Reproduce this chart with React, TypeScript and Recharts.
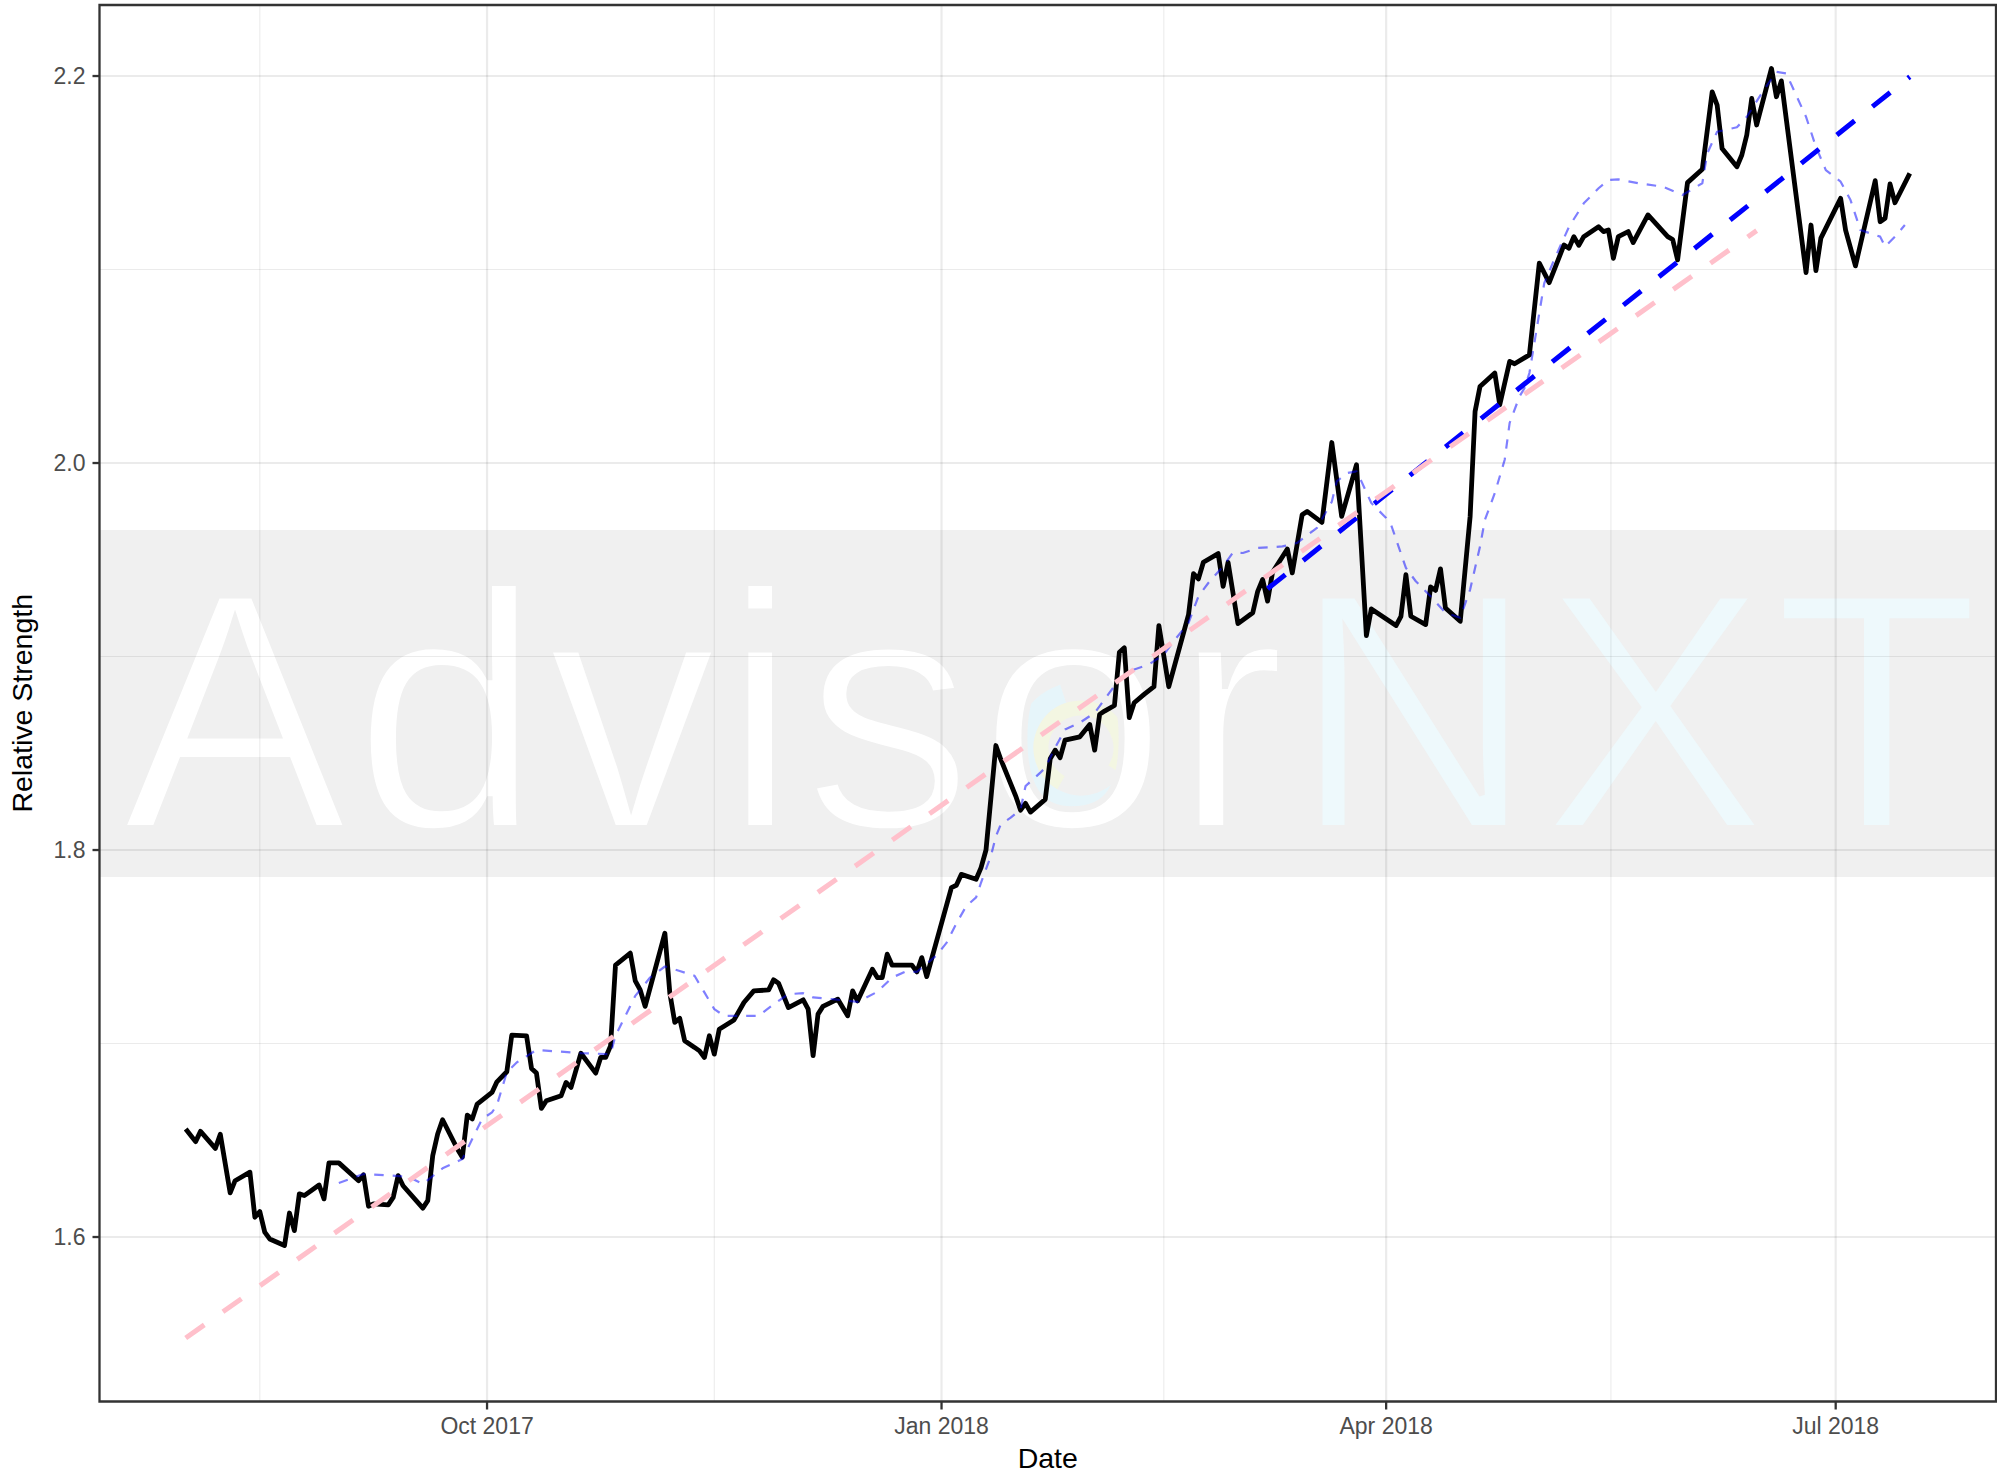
import React from 'react';
import { LineChart, Line, XAxis, YAxis, CartesianGrid, ReferenceArea } from 'recharts';

// ---- data ----
const priceDates = [
  '2017-08-01','2017-08-03','2017-08-04','2017-08-07','2017-08-08','2017-08-10','2017-08-11','2017-08-14','2017-08-15','2017-08-16',
  '2017-08-17','2017-08-18','2017-08-21','2017-08-22','2017-08-23','2017-08-24','2017-08-25','2017-08-28','2017-08-29','2017-08-30',
  '2017-09-01','2017-09-05','2017-09-06','2017-09-07','2017-09-08','2017-09-11','2017-09-12','2017-09-13','2017-09-14','2017-09-18',
  '2017-09-19','2017-09-20','2017-09-21','2017-09-22','2017-09-25','2017-09-26','2017-09-27','2017-09-28','2017-09-29','2017-10-02',
  '2017-10-03','2017-10-05','2017-10-06','2017-10-09','2017-10-10','2017-10-11','2017-10-12','2017-10-13','2017-10-16','2017-10-17',
  '2017-10-18','2017-10-20','2017-10-23','2017-10-24','2017-10-25','2017-10-26','2017-10-27','2017-10-30','2017-10-31','2017-11-01',
  '2017-11-02','2017-11-06','2017-11-07','2017-11-08','2017-11-09','2017-11-10','2017-11-12','2017-11-13','2017-11-14','2017-11-15',
  '2017-11-16','2017-11-17','2017-11-20','2017-11-22','2017-11-24','2017-11-27','2017-11-28','2017-11-29','2017-12-01','2017-12-04',
  '2017-12-05','2017-12-06','2017-12-07','2017-12-08','2017-12-11','2017-12-13','2017-12-14','2017-12-15','2017-12-18','2017-12-19',
  '2017-12-20','2017-12-21','2017-12-22','2017-12-26','2017-12-27','2017-12-28','2017-12-29','2018-01-03','2018-01-04','2018-01-05',
  '2018-01-08','2018-01-09','2018-01-10','2018-01-12','2018-01-13','2018-01-16','2018-01-17','2018-01-18','2018-01-19','2018-01-22',
  '2018-01-23','2018-01-24','2018-01-25','2018-01-26','2018-01-29','2018-01-31','2018-02-01','2018-02-02','2018-02-03','2018-02-05',
  '2018-02-06','2018-02-07','2018-02-08','2018-02-09','2018-02-11','2018-02-13','2018-02-14','2018-02-16','2018-02-20','2018-02-21',
  '2018-02-22','2018-02-23','2018-02-26','2018-02-27','2018-02-28','2018-03-02','2018-03-05','2018-03-06','2018-03-07','2018-03-08',
  '2018-03-09','2018-03-12','2018-03-13','2018-03-15','2018-03-16','2018-03-19','2018-03-21','2018-03-23','2018-03-26','2018-03-28',
  '2018-03-29','2018-04-03','2018-04-04','2018-04-05','2018-04-06','2018-04-09','2018-04-10','2018-04-11','2018-04-12','2018-04-13',
  '2018-04-16','2018-04-18','2018-04-19','2018-04-20','2018-04-23','2018-04-24','2018-04-26','2018-04-27','2018-04-30','2018-05-02',
  '2018-05-04','2018-05-07','2018-05-08','2018-05-09','2018-05-10','2018-05-11','2018-05-14','2018-05-15','2018-05-16','2018-05-17',
  '2018-05-18','2018-05-20','2018-05-21','2018-05-24','2018-05-28','2018-05-29','2018-05-30','2018-06-01','2018-06-04','2018-06-06',
  '2018-06-07','2018-06-08','2018-06-11','2018-06-12','2018-06-13','2018-06-14','2018-06-15','2018-06-18','2018-06-19','2018-06-20',
  '2018-06-25','2018-06-26','2018-06-27','2018-06-28','2018-07-02','2018-07-03','2018-07-05','2018-07-09','2018-07-10','2018-07-11',
  '2018-07-12','2018-07-13','2018-07-16',
];
const priceValues = [
  1.6558,1.6493,1.6546,1.6458,1.6531,1.6228,1.6291,1.6335,1.6102,1.6131,
  1.6025,1.599,1.5956,1.6124,1.6033,1.6223,1.6214,1.6269,1.6197,1.6383,
  1.6383,1.6291,1.6321,1.6159,1.6171,1.6166,1.6205,1.6317,1.6265,1.6149,
  1.6188,1.642,1.6532,1.6606,1.6455,1.6412,1.663,1.661,1.6687,1.6747,
  1.6802,1.6854,1.7043,1.704,1.6871,1.6847,1.6665,1.6704,1.673,1.6799,
  1.6773,1.695,1.6847,1.6928,1.6928,1.6988,1.7405,1.7467,1.7324,1.7277,
  1.7192,1.757,1.726,1.7109,1.713,1.7014,1.698,1.6962,1.6928,1.704,
  1.6945,1.7074,1.7122,1.7212,1.7272,1.7277,1.7329,1.7312,1.7186,1.7226,
  1.7178,1.6937,1.7152,1.7192,1.7229,1.7143,1.7272,1.722,1.7384,1.7341,
  1.7341,1.7462,1.7405,1.7405,1.737,1.7444,1.7346,1.7806,1.7818,1.7874,
  1.7849,1.7909,1.8,1.854,1.8468,1.828,1.8206,1.8241,1.8196,1.8262,
  1.8472,1.8516,1.8477,1.8568,1.8585,1.8649,1.8516,1.8701,1.8718,1.8747,
  1.9022,1.9045,1.8684,1.8761,1.8804,1.8844,1.916,1.8844,1.9217,1.9428,
  1.9401,1.9487,1.9532,1.9363,1.9487,1.917,1.9226,1.9337,1.9398,1.9286,
  1.9435,1.9556,1.9432,1.9733,1.975,1.9693,2.0106,1.9724,1.9991,1.9108,
  1.9246,1.916,1.9208,1.9423,1.9208,1.9165,1.936,1.9342,1.9453,1.9251,
  1.9182,1.9724,2.0266,2.0395,2.0465,2.0301,2.0525,2.0513,2.0559,2.1033,
  2.0932,2.1127,2.111,2.117,2.1125,2.117,2.1221,2.1196,2.1204,2.1058,
  2.117,2.1196,2.1139,2.1282,2.117,2.1155,2.105,2.1449,2.1518,2.1918,
  2.185,2.1626,2.1531,2.1592,2.1695,2.1884,2.1747,2.2039,2.1893,2.1975,
  2.0984,2.123,2.0994,2.1162,2.1368,2.1204,2.1019,2.1459,2.1247,2.1265,
  2.1442,2.1345,2.1497,
];

const smoothDates = [
  '2017-09-01','2017-09-06','2017-09-15','2017-09-18','2017-09-22','2017-09-26','2017-09-28','2017-09-30','2017-10-02','2017-10-03',
  '2017-10-05','2017-10-07','2017-10-11','2017-10-20','2017-10-26','2017-10-27','2017-10-31','2017-11-03','2017-11-06','2017-11-09',
  '2017-11-12','2017-11-14','2017-11-16','2017-11-18','2017-11-25','2017-11-28','2017-12-01','2017-12-04','2017-12-06','2017-12-10',
  '2017-12-15','2017-12-19','2017-12-22','2017-12-25','2017-12-27','2017-12-31','2018-01-02','2018-01-04','2018-01-06','2018-01-08',
  '2018-01-09','2018-01-11','2018-01-12','2018-01-13','2018-01-15','2018-01-17','2018-01-18','2018-01-21','2018-01-22','2018-01-24',
  '2018-01-26','2018-01-29','2018-02-01','2018-02-04','2018-02-06','2018-02-09','2018-02-12','2018-02-15','2018-02-17','2018-02-20',
  '2018-02-22','2018-02-24','2018-02-27','2018-03-01','2018-03-03','2018-03-06','2018-03-11','2018-03-14','2018-03-18','2018-03-21',
  '2018-03-22','2018-03-24','2018-03-26','2018-03-27','2018-03-29','2018-04-01','2018-04-02','2018-04-05','2018-04-07','2018-04-10',
  '2018-04-13','2018-04-16','2018-04-18','2018-04-20','2018-04-21','2018-04-23','2018-04-25','2018-04-26','2018-04-28','2018-04-29',
  '2018-04-30','2018-05-03','2018-05-05','2018-05-08','2018-05-11','2018-05-14','2018-05-16','2018-05-18','2018-05-22','2018-05-27',
  '2018-05-31','2018-06-04','2018-06-05','2018-06-07','2018-06-11','2018-06-13','2018-06-16','2018-06-19','2018-06-21','2018-06-23',
  '2018-06-25','2018-06-27','2018-06-29','2018-07-02','2018-07-04','2018-07-06','2018-07-08','2018-07-10','2018-07-11','2018-07-13',
  '2018-07-15',
];
const smoothValues = [
  1.6279,1.6326,1.6312,1.6274,1.6355,1.6403,1.6506,1.661,1.6644,1.6682,
  1.6851,1.6902,1.6967,1.695,1.6945,1.704,1.7246,1.7341,1.7398,1.7375,
  1.735,1.7264,1.7178,1.7143,1.7143,1.7203,1.7255,1.726,1.7238,1.7229,
  1.7215,1.7267,1.7341,1.7375,1.737,1.7456,1.752,1.762,1.771,1.7755,
  1.7832,1.797,1.807,1.8133,1.8167,1.821,1.833,1.84,1.8425,1.8529,
  1.8623,1.8658,1.8709,1.8813,1.8881,1.8933,1.8959,1.901,1.9079,1.9174,
  1.9311,1.938,1.9466,1.9538,1.9535,1.9561,1.9569,1.9587,1.9665,1.98,
  1.9905,1.9948,1.9957,1.9905,1.9793,1.9716,1.9681,1.9458,1.9389,1.9311,
  1.9226,1.92,1.9346,1.9569,1.9707,1.9845,2.0017,2.0207,2.0344,2.0387,
  2.0465,2.0929,2.105,2.122,2.1342,2.142,2.1463,2.1466,2.1446,2.1428,
  2.1385,2.1446,2.16,2.1712,2.1735,2.1789,2.191,2.2022,2.2013,2.1901,
  2.1789,2.1634,2.1514,2.1454,2.1359,2.1204,2.1187,2.117,2.1118,2.117,
  2.123,
];

const trendLongDates = ['2017-08-01', '2018-06-15'];
const trendLongValues = [1.5478, 2.1201];
const trendRecentDates = ['2018-03-08', '2018-07-16'];
const trendRecentValues = [1.935, 2.1996];

const xTickDates = ['2017-10-01', '2018-01-01', '2018-04-01', '2018-07-01'];
const xTickLabels = ['Oct 2017', 'Jan 2018', 'Apr 2018', 'Jul 2018'];
const yTicks = [1.6, 1.8, 2.0, 2.2];

const xTitle = 'Date';
const yTitle = 'Relative Strength';
const watermarkMain = 'Advisor';
const watermarkAccent = 'NXT';

// ---- helpers ----
const toT = (s: string) => Date.parse(s + 'T00:00:00Z');
const build = (dates: string[], values: number[]) => dates.map((d, i) => ({ t: toT(d), v: values[i] }));

const priceData = build(priceDates, priceValues);
const smoothData = build(smoothDates, smoothValues);
const trendLongData = build(trendLongDates, trendLongValues);
const trendRecentData = build(trendRecentDates, trendRecentValues);

const allPts = [...priceData, ...smoothData, ...trendLongData, ...trendRecentData];
const tMin = Math.min(...allPts.map((p) => p.t));
const tMax = Math.max(...allPts.map((p) => p.t));
const vMin = Math.min(...allPts.map((p) => p.v));
const vMax = Math.max(...allPts.map((p) => p.v));
const xPad = (tMax - tMin) * 0.05;
const yPad = (vMax - vMin) * 0.05;
const xDomain: [number, number] = [tMin - xPad, tMax + xPad];
const yDomain: [number, number] = [vMin - yPad, vMax + yPad];

const xTicks = xTickDates.map(toT);
const xMinor: number[] = [];
{
  const step = xTicks[1] - xTicks[0];
  const ext = [xTicks[0] - step, ...xTicks, xTicks[xTicks.length - 1] + step];
  for (let i = 0; i < ext.length - 1; i++) {
    const m = (ext[i] + ext[i + 1]) / 2;
    if (m > xDomain[0] && m < xDomain[1]) xMinor.push(m);
  }
}
const yMinor: number[] = [];
{
  const step = yTicks[1] - yTicks[0];
  const ext = [yTicks[0] - step, ...yTicks, yTicks[yTicks.length - 1] + step];
  for (let i = 0; i < ext.length - 1; i++) {
    const m = (ext[i] + ext[i + 1]) / 2;
    if (m > yDomain[0] && m < yDomain[1]) yMinor.push(Math.round(m * 1000) / 1000);
  }
}

const FONT = '"Liberation Sans", Arial, Helvetica, sans-serif';
const GRID = 'rgba(0,0,0,0.078)';

const XTitle = (props: any) => {
  const vb = props.viewBox || {};
  return (
    <text x={vb.x + vb.width / 2} y={vb.y + 66.5} textAnchor="middle" fontFamily={FONT} fontSize={28.5} fill="#000">
      {xTitle}
    </text>
  );
};
const YTitle = (props: any) => {
  const vb = props.viewBox || {};
  const cx = vb.x + 32;
  const cy = vb.y + vb.height / 2;
  return (
    <text x={cx} y={cy} transform={`rotate(-90 ${cx} ${cy})`} textAnchor="middle" fontFamily={FONT} fontSize={28.5} fill="#000">
      {yTitle}
    </text>
  );
};

const Watermark = () => (
  <svg width={1997} height={1475} style={{ position: 'absolute', left: 0, top: 0 }}>
    <rect x={99.5} y={530} width={1896.5} height={347} fill="#f0f0f0" />
    <g>
      <circle cx={1081} cy={748} r={57} fill="none" stroke="#e6f5fa" strokeWidth={19} strokeDasharray="270 88" transform="rotate(-20 1081 748)" />
      <circle cx={1081} cy={748} r={40} fill="none" stroke="#f3f6e2" strokeWidth={15} strokeDasharray="190 62" transform="rotate(120 1081 748)" />
    </g>
    <text
      x={122}
      y={828}
      fontFamily={FONT}
      fontSize={338}
      textLength={1858}
      lengthAdjust="spacing"
      fill="#ffffff"
      stroke="#f0f0f0"
      strokeWidth={6}
    >
      {watermarkMain}
      <tspan fill="#eef9fc">{watermarkAccent}</tspan>
    </text>
  </svg>
);

export default function App() {
  return (
    <div style={{ position: 'fixed', left: 0, top: 0, width: 1997, height: 1475, background: '#ffffff', overflow: 'hidden' }}>
      <Watermark />
      <div style={{ position: 'absolute', left: 0, top: 0 }}>
        <LineChart width={1997} height={1475} margin={{ top: 5, right: 1, bottom: 0, left: 0 }}>
          <CartesianGrid stroke={GRID} strokeWidth={1.1} horizontalValues={yMinor} verticalValues={xMinor} />
          <CartesianGrid stroke={GRID} strokeWidth={2.2} horizontalValues={yTicks} verticalValues={xTicks} />
          <XAxis
            dataKey="t"
            type="number"
            domain={xDomain}
            allowDataOverflow
            ticks={xTicks}
            tickFormatter={(t: number) => xTickLabels[xTicks.indexOf(t)] ?? ''}
            height={73.5}
            axisLine={false}
            tickLine={{ stroke: '#333333', strokeWidth: 2.3 }}
            tickSize={8}
            tickMargin={8}
            tick={{ fill: '#4d4d4d', fontSize: 23, fontFamily: FONT }}
            label={<XTitle />}
            interval={0}
          />
          <YAxis
            dataKey="v"
            type="number"
            domain={yDomain}
            allowDataOverflow
            ticks={yTicks}
            tickFormatter={(v: number) => v.toFixed(1)}
            width={99.5}
            axisLine={false}
            tickLine={{ stroke: '#333333', strokeWidth: 2.3 }}
            tickSize={7}
            tickMargin={7}
            tick={{ fill: '#4d4d4d', fontSize: 23, fontFamily: FONT }}
            label={<YTitle />}
            interval={0}
          />
          <Line data={priceData} dataKey="v" type="linear" stroke="#000000" strokeWidth={4.8} dot={false} activeDot={false} isAnimationActive={false} strokeLinejoin="round" strokeLinecap="butt" />
          <Line data={smoothData} dataKey="v" type="linear" stroke="#0000ff" strokeOpacity={0.5} strokeWidth={2.2} strokeDasharray="9.5 9" dot={false} activeDot={false} isAnimationActive={false} strokeLinejoin="round" strokeLinecap="butt" />
          <Line data={trendRecentData} dataKey="v" type="linear" stroke="#0000ff" strokeWidth={5} strokeDasharray="22.75 22.75" dot={false} activeDot={false} isAnimationActive={false} strokeLinecap="butt" />
          <Line data={trendLongData} dataKey="v" type="linear" stroke="#ffc0cb" strokeWidth={5} strokeDasharray="22.75 22.75" dot={false} activeDot={false} isAnimationActive={false} strokeLinecap="butt" />
          <ReferenceArea x1={xDomain[0]} x2={xDomain[1]} y1={yDomain[0]} y2={yDomain[1]} fill="none" fillOpacity={0} stroke="#333333" strokeWidth={2.3} ifOverflow="visible" />
        </LineChart>
      </div>
    </div>
  );
}
